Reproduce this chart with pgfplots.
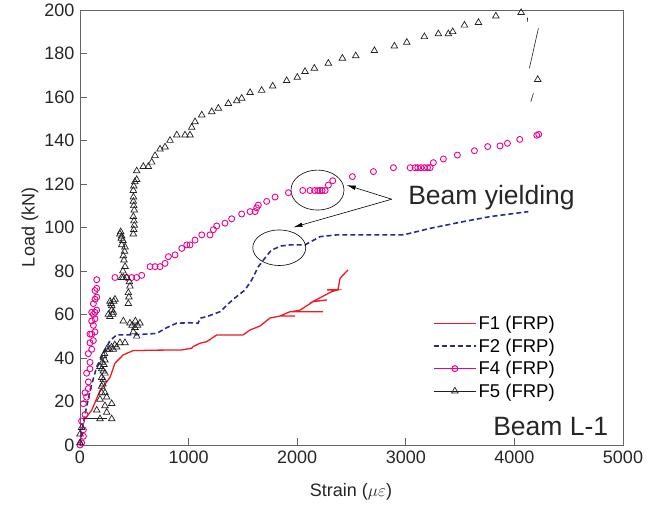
\documentclass[border=0pt]{standalone}
\usepackage{fontspec}
\setmainfont{Liberation Sans}
\usepackage{pgfplots}
\pgfplotsset{compat=1.18}
\usetikzlibrary{arrows.meta,calc}
\definecolor{cF1}{RGB}{237,28,36}
\definecolor{cF2}{RGB}{40,45,140}
\definecolor{cF4}{RGB}{236,0,140}
\definecolor{cF5}{RGB}{35,31,32}
\definecolor{axgray}{RGB}{100,100,100}
\begin{document}
\begin{tikzpicture}
\begin{axis}[
 scale only axis, width=543pt, height=435pt,
 xmin=0, xmax=5000, ymin=0, ymax=200,
 xtick={0,1000,2000,3000,4000,5000},
 ytick={0,20,40,60,80,100,120,140,160,180,200},
 tick align=inside, xtick pos=bottom, ytick pos=left,
 major tick length=7pt,
 axis line style={axgray, line width=0.9pt},
 tick style={axgray, line width=0.8pt},
 ticklabel style={font=\fontsize{18}{20}\selectfont, text=black!85},
 xticklabel style={yshift=-2pt},
 yticklabel style={xshift=-2pt},
 /pgf/number format/assume math mode=true,
 /pgf/number format/1000 sep={},
 xlabel={Strain ($\mu\varepsilon$)}, ylabel={Load (kN)},
 label style={font=\fontsize{18}{21}\selectfont, text=black!85},
 xlabel style={at={(axis description cs:0.499,-0.108)}, anchor=center},
 ylabel style={at={(axis description cs:-0.092,0.5)}, anchor=center},
 legend cell align=left,
 legend style={at={(0.648,0.303)}, anchor=north west, draw=none, fill=none,
   font=\fontsize{18.5}{21}\selectfont, row sep=3.5pt, inner sep=1pt},
 legend image code/.code={\draw[mark repeat=2,mark phase=2,#1] plot coordinates {(0pt,0pt) (21pt,0pt) (42pt,0pt)};},
]
\addlegendimage{cF1, line width=1.2pt}
\addlegendentry{F1 (FRP)}
\addlegendimage{cF2, line width=1.6pt, dash pattern=on 5pt off 3pt}
\addlegendentry{F2 (FRP)}
\addlegendimage{cF4, line width=1pt, mark=o, mark size=3pt, mark options={solid, line width=1pt}}
\addlegendentry{F4 (FRP)}
\addlegendimage{cF5, line width=0.6pt, mark=triangle, mark size=3.8pt, mark options={solid, line width=0.7pt}}
\addlegendentry{F5 (FRP)}

% F1
\addplot[cF1, line width=1.3pt, forget plot] coordinates {
(46,12) (108,16) (184,25) (276,31) (322,37.6) (397,41.4) (490,43.4) (700,43.6) (936,43.7)
(1029,44.5) (1041,45.2) (1105,46.8) (1167,47.5) (1259,50.6) (1501,50.6) (1566,52.9) (1658,54.7)
(1750,58.4) (1842,59.3) (1980,59.3) (1842,59.3) (1934,61.3) (2238,61.3) (1950,61.3) (2026,62)
(2146,65.9) (2275,66.7) (2146,66) (2318,70.5) (2376,71.3) (2275,71.3) (2376,71.5) (2395,76.7) (2468,80.5)
};
% F2
\addplot[cF2, line width=1.6pt, dash pattern=on 5pt off 3pt, forget plot] coordinates {
(0,0) (10,4) (20,7) (50,15) (92,25) (154,36) (215,42) (276,48) (338,50.6) (488,50.6) (706,51.3)
(800,54) (890,56) (1013,56.2) (1088,56) (1105,58.3) (1167,59) (1290,61.3) (1411,67) (1520,71.3)
(1581,75.9) (1642,82) (1704,86) (1760,89.5) (1850,91.5) (1934,92) (2072,92) (2211,95.8) (2364,96.6)
(2579,96.6) (2978,96.6) (3224,99.6) (3530,102.7) (3776,105) (4129,107.3)
};
% F4
\addplot[cF4, only marks, mark=o, mark size=3pt, mark options={line width=0.9pt}, forget plot] coordinates {
(0,0) (15,1) (31,4) (31,7) (15,11) (46,14) (31,19) (61,22) (46,24) (77,26) (77,29) (61,33) (92,35)
(92,38) (77,42) (108,44) (92,47) (123,48) (108,51) (92,51) (138,52) (123,55) (108,57) (138,58)
(123,60) (138,61) (108,61) (154,62) (123,65) (138,67) (154,68) (138,71) (154,72) (154,76)
(322,77) (430,77) (475,77) (522,77) (568,78) (645,82) (691,82) (737,82) (783,83.5) (814,86.6)
(875,87.4) (937,90.4) (983,92) (1013,92) (1059,94.2) (1121,96.6) (1197,96.6) (1228,99) (1259,100.7)
(1335,102) (1397,104) (1489,106.2) (1566,107.3) (1612,107.3) (1627,109) (1642,110.3) (1719,112)
(1796,114) (1919,116) (2051,117) (2118,117) (2160,117) (2190,117) (2210,117) (2230,117) (2257,117)
(2287,119.5) (2327,121.5) (2508,123.4) (2702,125.7) (2886,127.5) (3040,127.5) (3085,127.5)
(3110,127.5) (3140,127.5) (3170,127.5) (3200,127.5) (3224,127.5) (3254,129.8) (3346,131.5)
(3475,133.3) (3632,135.3) (3754,137.2) (3868,137.5) (3936,138.7) (4049,140.5) (4206,142.4) (4224,142.8)
};
% F5 markers
\addplot[cF5, only marks, mark=triangle, mark size=3.8pt, mark options={line width=0.7pt}, forget plot] coordinates {
(0,1) (0,5) (15,8) (246,15) (154,16) (292,12) (184,12) (230,18) (292,19) (184,21) (246,22) (200,24)
(230,24) (200,27) (210,28) (200,31) (215,34) (200,35) (220,37) (184,36) (230,39) (215,41) (246,44)
(215,30) (230,33) (205,38) (225,42) (270,44) (290,45) (320,46)
(307,44) (338,45) (368,47) (414,47) (399,57) (460,56) (552,56) (506,54) (491,52) (522,50) (261,60)
(530,55) (480,55) (510,57) (275,59) (300,60) (285,65) (310,66)
(292,62) (307,61) (276,66) (322,67) (292,64) (445,65) (445,70) (460,73) (430,77) (384,77) (415,82)
(450,68) (455,75) (400,77) (395,80) (405,85) (410,89) (395,94) (380,95) (375,98)
(399,87) (415,91) (384,96) (368,97) (384,92) (491,97) (500,101) (491,105) (500,108) (491,112)
(495,99) (497,103) (495,110) (492,114) (495,119) (505,121)
(491,117) (522,122) (522,126) (583,128) (629,128) (660,130) (691,133) (737,136) (783,137) (829,140)
(891,142.5) (967,142.5) (1013,142.5) (1029,146) (1059,148.6) (1121,151.7) (1213,153.2) (1274,154.8)
(1366,157) (1443,158.2) (1489,159.4) (1566,162) (1673,163) (1774,165) (1903,167.5) (2001,169)
(2072,171.7) (2158,173.2) (2287,175.5) (2416,177.8) (2539,178.9) (2711,181.3) (2895,183.4)
(3009,185.1) (3171,187.7) (3300,189) (3392,189) (3432,190) (3540,193) (3669,194.2) (3829,197.2)
(4062,198.8) (4215,168)
};
% F5 visible line fragments
\addplot[cF5, line width=0.6pt, forget plot] coordinates {(20,12.5) (250,12.5)};
\addplot[cF5, line width=0.6pt, forget plot] coordinates {(4120,196.5) (4122,194.5)};
\addplot[cF5, line width=0.6pt, forget plot] coordinates {(4221,191.6) (4138,173.2)};
\addplot[cF5, line width=0.6pt, forget plot] coordinates {(4175,161.7) (4151,157.8)};

% annotations
\draw[black, line width=0.6pt] (axis cs:2187,117.2) ellipse [x radius=26.5pt, y radius=20pt];
\draw[black, line width=0.6pt] (axis cs:1835,90.7) ellipse [x radius=26.5pt, y radius=17.8pt];
\draw[black, line width=0.6pt, -{Latex[length=9pt,width=4.5pt]}] (axis cs:2870,113) -- (axis cs:2456,119.5);
\draw[black, line width=0.6pt, -{Latex[length=9pt,width=4.5pt]}] (axis cs:2870,113) -- (axis cs:1965,100.1);
\node[anchor=base west, inner sep=0pt, font=\fontsize{26.5}{30}\selectfont, text=black!85] at (axis cs:3021,110.8) {Beam yielding};
\node[anchor=base east, inner sep=0pt, font=\fontsize{26.5}{30}\selectfont, text=black!85] at (axis cs:4865,4.3) {Beam L-1};
\end{axis}
\pgfresetboundingbox
\path (current axis.south west) ++(-80pt,-70pt) rectangle ($(current axis.north east)+(44pt,10pt)$);
\end{tikzpicture}
\end{document}
